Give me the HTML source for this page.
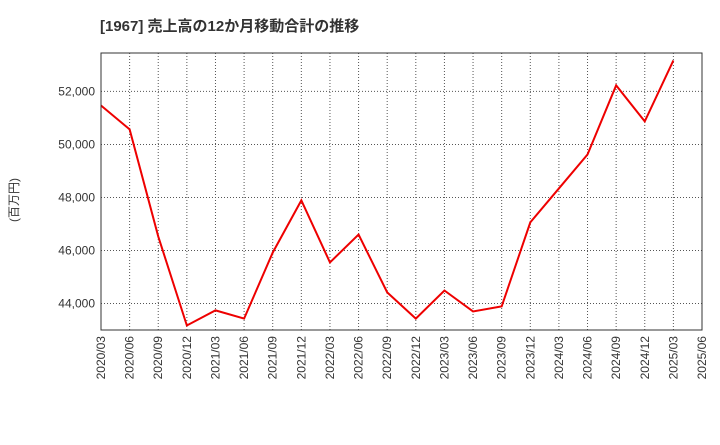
<!DOCTYPE html>
<html><head><meta charset="utf-8"><style>
body{margin:0;background:#fff;font-family:"Liberation Sans","Noto Sans CJK JP",sans-serif;}
svg text{font-family:"Liberation Sans","Noto Sans CJK JP",sans-serif;}
</style></head><body>
<svg id="chart" width="720" height="440" xmlns="http://www.w3.org/2000/svg">
<text x="100" y="31" font-size="15" font-weight="bold" fill="#333">[1967]  売上高の12か月移動合計の推移</text>
<text x="18" y="200" font-size="12" fill="#333" transform="rotate(-90 18 200)" text-anchor="middle">(百万円)</text>
<g id="grid"></g>
<g id="axes"></g>
<polyline id="line" fill="none" stroke="#ee0000" stroke-width="2"/>
<rect x="101" y="53" width="601" height="277" fill="none" stroke="#333" stroke-width="1"/>
</svg>
<script>
const categories=["2020/03","2020/06","2020/09","2020/12","2021/03","2021/06","2021/09","2021/12","2022/03","2022/06","2022/09","2022/12","2023/03","2023/06","2023/09","2023/12","2024/03","2024/06","2024/09","2024/12","2025/03","2025/06"];
const values=[51470,50570,46530,43170,43740,43430,45920,47890,45550,46600,44420,43430,44490,43700,43890,47060,48340,49620,52230,50870,53170];
const yTicks=[44000,46000,48000,50000,52000];
const yTickLabels=["44,000","46,000","48,000","50,000","52,000"];
const X0=101,X1=702,Y0=330,Y1=53,YMIN=43000,YMAX=53450;
const xs=i=>X0+i*(X1-X0)/(categories.length-1);
const ys=v=>Y0-(v-YMIN)/(YMAX-YMIN)*(Y0-Y1);
const NS="http://www.w3.org/2000/svg";
const grid=document.getElementById('grid'),axes=document.getElementById('axes');
categories.forEach((c,i)=>{
  const x=xs(i);
  const l=document.createElementNS(NS,'line');
  
  
  l.setAttribute('x1',x);l.setAttribute('x2',x);l.setAttribute('y1',Y1);l.setAttribute('y2',Y0);
  l.setAttribute('stroke','#555');l.setAttribute('stroke-dasharray','1,2');
  grid.appendChild(l);
  const t=document.createElementNS(NS,'text');
  
  
  t.setAttribute('transform',`translate(${x+4},${Y0+6}) rotate(-90)`);
  t.setAttribute('text-anchor','end');t.setAttribute('font-size','12');t.setAttribute('fill','#333');
  t.textContent=c;axes.appendChild(t);
});
yTicks.forEach((v,i)=>{
  const y=ys(v);
  const l=document.createElementNS(NS,'line');
  
  
  l.setAttribute('x1',X0);l.setAttribute('x2',X1);l.setAttribute('y1',y);l.setAttribute('y2',y);
  l.setAttribute('stroke','#555');l.setAttribute('stroke-dasharray','1,2');
  grid.appendChild(l);
  const t=document.createElementNS(NS,'text');
  
  
  t.setAttribute('x',X0-6);t.setAttribute('y',y+4);
  t.setAttribute('text-anchor','end');t.setAttribute('font-size','12');t.setAttribute('fill','#333');
  t.textContent=yTickLabels[i];axes.appendChild(t);
});
document.getElementById('line').setAttribute('points',values.map((v,i)=>xs(i)+','+ys(v)).join(' '));
</script>
</body></html>
